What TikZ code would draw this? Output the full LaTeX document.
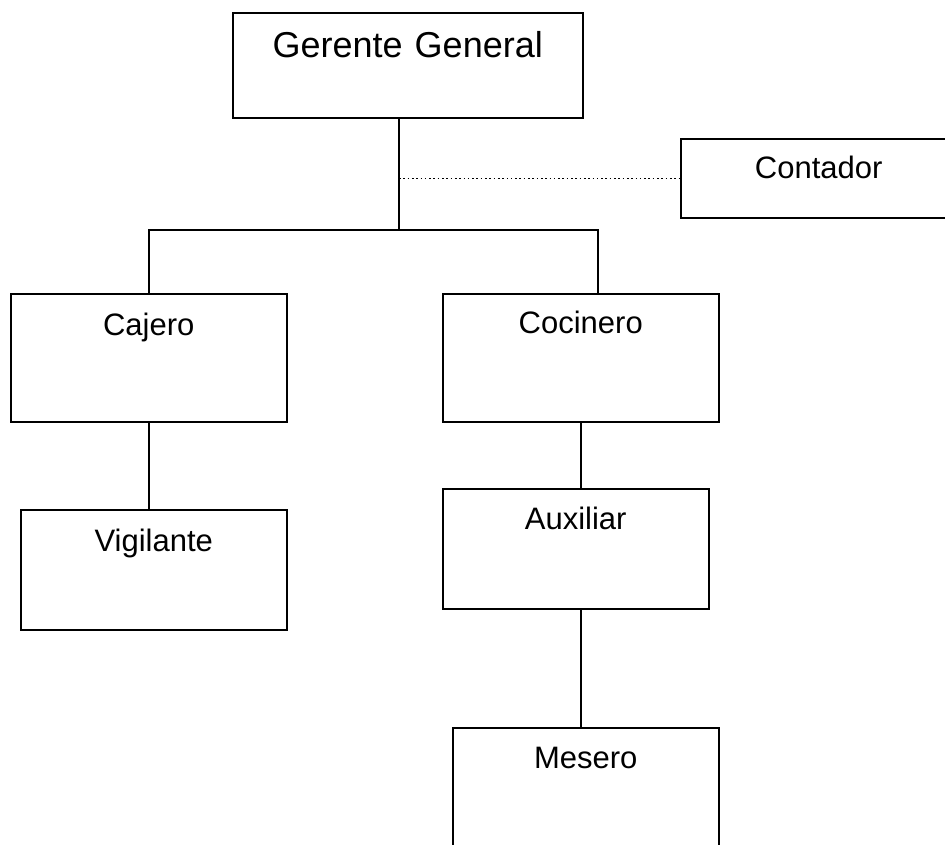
\documentclass[tikz,border=0pt]{standalone}
\usepackage{fontspec}
\setmainfont{Liberation Sans}
\usetikzlibrary{calc}

\begin{document}
\begin{tikzpicture}[x=1pt,y=-1pt,
                        puesto/.style={draw,line width=1.5pt,inner sep=0pt,anchor=north west,
                            align=center,font=\fontsize{31}{36}\selectfont},
                        enlace/.style={line width=1.5pt},
                        punteado/.style={line width=1.4pt,dash pattern=on 1.6pt off 2.7pt}]
                        \useasboundingbox (0,0) rectangle (945,844);
                        \clip (0,0) rectangle (945,844);
                        % cuadros
                        \node[puesto,text width=350pt,text height=45pt,text depth=60pt,
                            font=\fontsize{36}{42}\selectfont] (gerente) at (232,12) {Gerente General};
                        \node[puesto,text width=276pt,text height=40pt,text depth=39pt] (contador) at (680,138) {Contador};
                        \node[puesto,text width=276pt,text height=42pt,text depth=86pt] (cajero) at (10,293) {Cajero};
                        \node[puesto,text width=276pt,text height=40pt,text depth=88pt] (cocinero) at (442,293) {Cocinero};
                        \node[puesto,text width=266pt,text height=42pt,text depth=78pt] (vigilante) at (20,509) {Vigilante};
                        \node[puesto,text width=266pt,text height=41pt,text depth=79pt] (auxiliar) at (442,488) {Auxiliar};
                        \node[puesto,text width=266pt,text height=41pt,text depth=85pt] (mesero) at (452,727) {Mesero};
                        % lineas
                        \coordinate (bus) at (399,230);
                        \coordinate (ramader) at (598,230);
                        \draw[enlace] (gerente.south -| bus) -- (bus);
                        \draw[punteado] (contador.west -| bus) -- (contador.west);
                        \draw[enlace] (cajero.north) |- (bus) -- (ramader) -- (cocinero.north -| ramader);
                        \draw[enlace] (cajero.south) -- (cajero.south |- vigilante.north);
                        \draw[enlace] (cocinero.south) -- (cocinero.south |- auxiliar.north);
                        \draw[enlace] (auxiliar.south -| cocinero.south) -- (mesero.north -| cocinero.south);
                    \end{tikzpicture}
\end{document}
